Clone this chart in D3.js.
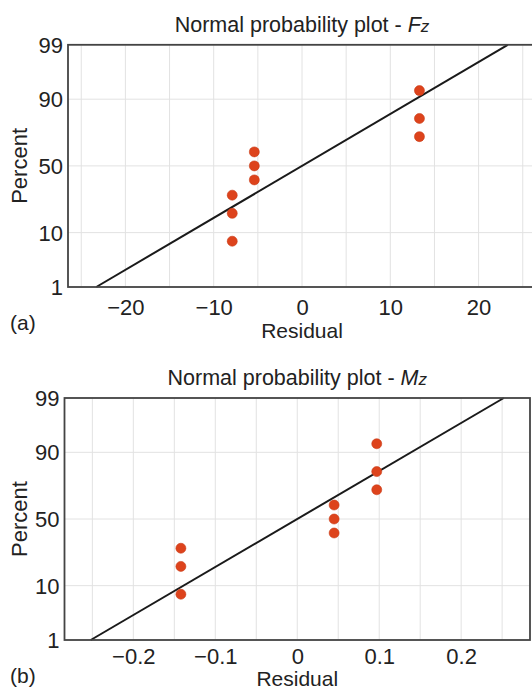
<!DOCTYPE html>
<html>
<head>
<meta charset="utf-8">
<script src="https://cdn.jsdelivr.net/npm/d3@7"></script>
<style>
  body { margin: 0; background: #fff; }
  text { font-family: "Liberation Sans", Arial, sans-serif; fill: #222; }
</style>
</head>
<body>
<div id="chart"></div>
<script>
// Percent ticks on the probability axis
const percentTicks = [1, 10, 50, 90, 99];
// Plotting positions (median ranks) of the 9 residuals
const rankPercent = [7.4, 18.1, 28.7, 39.4, 50, 60.6, 71.3, 81.9, 92.6];

// (a) Fz
const fzResidual = [-7.9, -7.9, -7.9, -5.4, -5.4, -5.4, 13.3, 13.3, 13.3];
const fzTicks = [-20, -10, 0, 10, 20];
const fzDomain = [-26.5, 26.5];
const fzFit = [[-23.3, 1], [23.3, 99]];

// (b) Mz
const mzResidual = [-0.142, -0.142, -0.142, 0.045, 0.045, 0.045, 0.097, 0.097, 0.097];
const mzTicks = [-0.2, -0.1, 0, 0.1, 0.2];
const mzDomain = [-0.284, 0.284];
const mzFit = [[-0.252, 1], [0.252, 99]];

const svg = d3.select("#chart")
    .append("svg")
    .attr("width", 532)
    .attr("height", 691);

// inverse normal cdf (Acklam)
function probit(p) {
    const a = [-39.69683028665376, 220.9460984245205, -275.9285104469687, 138.3577518672690, -30.66479806614716, 2.506628277459239];
    const b = [-54.47609879822406, 161.5858368580409, -155.6989798598866, 66.80131188771972, -13.28068155288572];
    const c = [-0.007784894002430293, -0.3223964580411365, -2.400758277161838, -2.549732539343734, 4.374664141464968, 2.938163982698783];
    const d = [0.007784695709041462, 0.3224671290700398, 2.445134137142996, 3.754408661907416];
    const pl = 0.02425;
    let q, r;
    if (p < pl) {
        q = Math.sqrt(-2 * Math.log(p));
        return (((((c[0] * q + c[1]) * q + c[2]) * q + c[3]) * q + c[4]) * q + c[5]) /
            ((((d[0] * q + d[1]) * q + d[2]) * q + d[3]) * q + 1);
    }
    if (p > 1 - pl) {
        q = Math.sqrt(-2 * Math.log(1 - p));
        return -(((((c[0] * q + c[1]) * q + c[2]) * q + c[3]) * q + c[4]) * q + c[5]) /
            ((((d[0] * q + d[1]) * q + d[2]) * q + d[3]) * q + 1);
    }
    q = p - 0.5;
    r = q * q;
    return (((((a[0] * r + a[1]) * r + a[2]) * r + a[3]) * r + a[4]) * r + a[5]) * q /
        (((((b[0] * r + b[1]) * r + b[2]) * r + b[3]) * r + b[4]) * r + 1);
}

function drawPanel(opt) {
    const { left, right, top, bottom } = opt.box;

    const xScale = d3.scaleLinear().domain(opt.domain).range([left, right]);
    const zScale = d3.scaleLinear()
        .domain([probit(0.01), probit(0.99)])
        .range([bottom, top]);
    const yPos = p => zScale(probit(p / 100));

    const g = svg.append("g");

    // vertical grid
    g.append("g")
        .selectAll("line")
        .data(xScale.ticks(10))
        .enter()
        .append("line")
        .attr("x1", d => xScale(d))
        .attr("x2", d => xScale(d))
        .attr("y1", top)
        .attr("y2", bottom)
        .attr("stroke", "#e2e2e2")
        .attr("stroke-width", 1);

    // horizontal grid
    g.append("g")
        .selectAll("line")
        .data(percentTicks)
        .enter()
        .append("line")
        .attr("x1", left)
        .attr("x2", right)
        .attr("y1", d => yPos(d))
        .attr("y2", d => yPos(d))
        .attr("stroke", "#e2e2e2")
        .attr("stroke-width", 1);

    // fitted line
    g.append("path")
        .datum(opt.fit)
        .attr("fill", "none")
        .attr("stroke", "#1a1a1a")
        .attr("stroke-width", 2)
        .attr("d", d3.line().x(d => xScale(d[0])).y(d => yPos(d[1])));

    // points
    g.append("g")
        .selectAll("circle")
        .data(opt.residual)
        .enter()
        .append("circle")
        .attr("cx", d => xScale(d))
        .attr("cy", (d, i) => yPos(rankPercent[i]))
        .attr("r", 5)
        .attr("fill", "#dd431c")
        .attr("stroke", "#c93c17")
        .attr("stroke-width", 0.6);

    // frame
    g.append("rect")
        .attr("x", left)
        .attr("y", top)
        .attr("width", right - left)
        .attr("height", bottom - top)
        .attr("fill", "none")
        .attr("stroke", "#444")
        .attr("stroke-width", 1.8);

    // x axis labels
    g.append("g")
        .attr("transform", `translate(0, ${bottom})`)
        .call(d3.axisBottom(xScale).tickValues(opt.ticks).tickSize(0).tickPadding(opt.pad).tickFormat(d3.format("")))
        .call(a => a.select(".domain").remove())
        .selectAll("text")
        .attr("font-size", 22)
        .style("fill", "#222");

    // y axis labels
    g.append("g")
        .selectAll("text.ytick")
        .data(percentTicks)
        .enter()
        .append("text")
        .attr("x", left - 5)
        .attr("y", d => yPos(d))
        .attr("dy", "0.36em")
        .attr("text-anchor", "end")
        .attr("font-size", 22)
        .text(d => d);

    // title
    const title = g.append("text")
        .attr("x", (left + Math.min(right, 536)) / 2)
        .attr("y", top - 13)
        .attr("text-anchor", "middle")
        .attr("font-size", 21.5);
    title.append("tspan").text("Normal probability plot - ");
    title.append("tspan").attr("font-style", "italic").text(opt.sym);
    title.append("tspan").attr("font-style", "italic").attr("font-size", 17).text("z");

    // axis titles
    g.append("text")
        .attr("x", (left + right) / 2)
        .attr("y", opt.labelY)
        .attr("text-anchor", "middle")
        .attr("font-size", 21)
        .text("Residual");

    g.append("text")
        .attr("transform", `translate(27, ${(top + bottom) / 2}) rotate(-90)`)
        .attr("text-anchor", "middle")
        .attr("font-size", 22)
        .text("Percent");

    g.append("text")
        .attr("x", 10)
        .attr("y", bottom + 43)
        .attr("font-size", 21)
        .text(opt.tag);
}

drawPanel({
    box: { left: 68, right: 536, top: 44.8, bottom: 287 },
    domain: fzDomain, ticks: fzTicks, residual: fzResidual, fit: fzFit,
    sym: "F", tag: "(a)", pad: 12, labelY: 338
});

drawPanel({
    box: { left: 64.5, right: 530, top: 398, bottom: 640 },
    domain: mzDomain, ticks: mzTicks, residual: mzResidual, fit: mzFit,
    sym: "M", tag: "(b)", pad: 8, labelY: 686
});
</script>
</body>
</html>
